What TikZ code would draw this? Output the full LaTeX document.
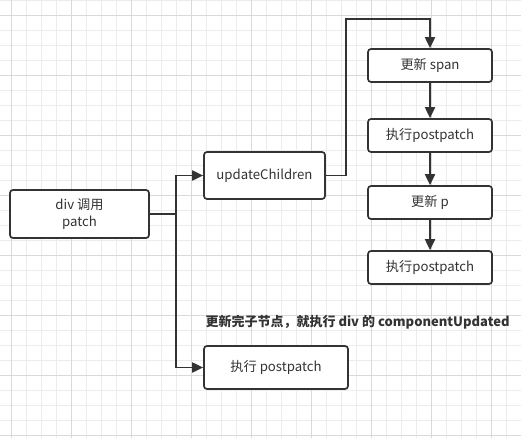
\documentclass[tikz,border=0pt]{standalone}
\usepackage{fontspec}
\usepackage{tikz}
\usetikzlibrary{arrows.meta}
\newfontfamily\cjk{Noto Sans CJK SC}
\definecolor{ink}{HTML}{333333}
\tikzstyle{box} = [draw=ink, line width=1.7pt, rounded corners=3pt, fill=white, text=ink, align=center, inner sep=0pt]
\tikzstyle{line} = [draw=ink, -{Triangle[length=11pt,width=10pt]}, line width=1.9pt]

\begin{document}
\begin{tikzpicture}[x=1pt,y=-1pt]
	\tikzstyle{every node}=[font=\cjk\fontsize{13.2}{17}\selectfont]
	\useasboundingbox (0,0) rectangle (521,438);
	\fill[white] (0,0) rectangle (521,438);

	% ------------------- Background grid ------------------- %
	\foreach \gx in {11.7,26.7,...,521} \draw[gray!15, line width=0.6pt] (\gx,0) -- (\gx,438);
	\foreach \gy in {0,15,...,438} \draw[gray!15, line width=0.6pt] (0,\gy) -- (521,\gy);
	\foreach \gx in {11.7,71.7,...,521} \draw[gray!30, line width=0.6pt] (\gx,0) -- (\gx,438);
	\foreach \gy in {15,75,...,438} \draw[gray!30, line width=0.6pt] (0,\gy) -- (521,\gy);

	% ------------------- Boxes ------------------- %
	\node[box, minimum width=139pt, minimum height=48pt] (div) at (79.5,214) {div 调用\\patch};
	\node[box, minimum width=121pt, minimum height=47pt] (upd) at (264.5,175.5) {updateChildren};
	\node[box, minimum width=124pt, minimum height=33pt] (span) at (430,65.5) {更新 span};
	\node[box, minimum width=124pt, minimum height=33pt] (pp1) at (430,135.5) {执行postpatch};
	\node[box, minimum width=124pt, minimum height=33pt] (p) at (430,202.5) {更新 p};
	\node[box, minimum width=124pt, minimum height=33pt] (pp2) at (430,267.5) {执行postpatch};
	\node[box, minimum width=144pt, minimum height=43pt] (post) at (276,367.5) {执行 postpatch};

	\node[anchor=west, text=ink, font=\cjk\bfseries\fontsize{13}{17}\selectfont] (note) at (202,322) {更新完子节点，就执行 div 的 componentUpdated};

	% ------------------- Connectors ------------------- %
	\coordinate (fork) at (176,214);
	\coordinate (top) at (346,19);
	\draw[draw=ink, line width=1.9pt] (div.east) -- (fork);
	\draw[line] (fork) |- (upd.west);
	\draw[line] (fork) |- (post.west);
	\draw[line] (upd.east) -| (top) -| (span.north);
	\draw[line] (span) -- (pp1);
	\draw[line] (pp1) -- (p);
	\draw[line] (p) -- (pp2);

\end{tikzpicture}
\end{document}
